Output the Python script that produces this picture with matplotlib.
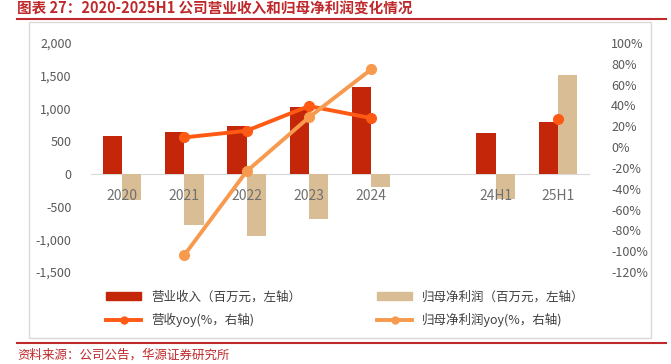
import numpy as np
import matplotlib
matplotlib.use('Agg')
import matplotlib.pyplot as plt
from matplotlib.lines import Line2D
from matplotlib.patches import Patch

plt.rcParams['font.family'] = ['Noto Sans CJK SC', 'DejaVu Sans']

# data
cats = ['2020', '2021', '2022', '2023', '2024', '', '24H1', '25H1']
revenue = [585, 647, 739, 1025, 1320, np.nan, 622, 790]
net_profit = [-398, -775, -953, -693, -194, np.nan, -387, 1514]
rev_yoy = [np.nan, 9.3, 15.7, 39.4, 27.9, np.nan, np.nan, 26.9]
np_yoy = [np.nan, -103.7, -23.3, 28.5, 74.6, np.nan, np.nan, np.nan]

c_rev = '#C4260A'
c_np = '#D9BD95'
c_rev_l = '#FF5A14'
c_np_l = '#F79A4E'
red = '#C0292B'
gray = '#595959'

fig = plt.figure(figsize=(6.71, 3.64), dpi=100)
ax = fig.add_axes([91/671, 1-272/364, 498/671, 229/364])
ax2 = ax.twinx()

x = np.arange(len(cats))
w = 0.31
ax.bar(x - w/2, revenue, w, color=c_rev, zorder=2)
ax.bar(x + w/2, net_profit, w, color=c_np, zorder=2)

ax.set_xlim(-0.5, len(cats) - 0.5)
ax.set_ylim(-1500, 2000)
ax.set_yticks(np.arange(-1500, 2001, 500))
ax.set_yticklabels([f'{v:,}' for v in range(-1500, 2001, 500)])
ax.tick_params(axis='y', length=0, pad=14, labelsize=9, labelcolor=gray)

ax.spines['bottom'].set_position(('data', 0))
ax.spines['bottom'].set_color('#D9D9D9')
ax.spines['bottom'].set_zorder(1)
for s in ['top', 'left', 'right']:
    ax.spines[s].set_visible(False)
ax.set_xticks(x)
ax.set_xticklabels(cats)
ax.tick_params(axis='x', length=0, pad=11, labelsize=10, labelcolor='#707070')
ax.xaxis.set_zorder(5)

# lines on right axis
xs = np.array(x, dtype=float)
ry = np.array(rev_yoy) / 100
ny = np.array(np_yoy) / 100
m1 = ~np.isnan(ry)
m2 = ~np.isnan(ny)
ax2.plot(xs[m1][:-1], ry[m1][:-1], color=c_rev_l, lw=2.8, marker='o', ms=7, zorder=3)
ax2.plot(xs[m1][-1:], ry[m1][-1:], color=c_rev_l, lw=2.8, marker='o', ms=7, zorder=3)
ax2.plot(xs[m2], ny[m2], color=c_np_l, lw=2.8, marker='o', ms=7, zorder=3)
ax2.set_ylim(-1.2, 1.0)
yt = np.arange(-120, 101, 20)
ax2.set_yticks(yt / 100)
ax2.set_yticklabels([f'{v}%' for v in yt])
ax2.tick_params(axis='y', length=0, pad=16, labelsize=9, labelcolor=gray)
for s in ax2.spines.values():
    s.set_visible(False)

# frame, rules and texts
fig.add_artist(plt.Rectangle((29/671, 1-338/364), 622/671, 316/364, fill=False,
                             ec='#D9D9D9', lw=1, transform=fig.transFigure))
fig.add_artist(Line2D([17/671, 666/671], [1-19/364, 1-19/364], color=red, lw=1.5))
fig.add_artist(Line2D([17/671, 666/671], [1-343/364, 1-343/364], color=red, lw=1.5))
fig.text(17/671, 1-9/364, '图表 27：2020-2025H1 公司营业收入和归母净利润变化情况',
         color=red, fontsize=10.5, fontweight='bold', va='center', ha='left')
fig.text(17/671, 1-355/364, '资料来源：公司公告，华源证券研究所',
         color=red, fontsize=9, va='center', ha='left')

h1 = [Patch(color=c_rev), Line2D([], [], color=c_rev_l, lw=2.8, marker='o', ms=5)]
l1 = ['营业收入（百万元，左轴）', '营收yoy(%，右轴)']
h2 = [Patch(color=c_np), Line2D([], [], color=c_np_l, lw=2.8, marker='o', ms=5)]
l2 = ['归母净利润（百万元，左轴）', '归母净利润yoy(%，右轴)']
kw = dict(frameon=False, fontsize=9, handlelength=2.8, handleheight=0.6,
          labelspacing=0.75, handletextpad=0.8, labelcolor='#404040', loc='center left')
fig.legend(h1, l1, bbox_to_anchor=(95/671, 1-309/364), **kw)
fig.legend(h2, l2, bbox_to_anchor=(366/671, 1-309/364), **kw)

fig.savefig('out.png', dpi=100)
